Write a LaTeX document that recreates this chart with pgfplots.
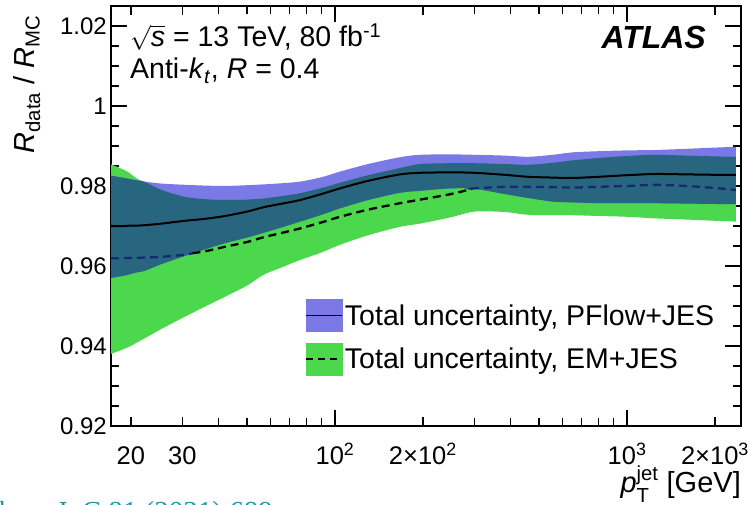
\documentclass[border=0pt]{standalone}
\usepackage{amsmath}
\usepackage{fontspec}
\setmainfont{Liberation Sans}
\newfontfamily\serifcite{Liberation Serif}
\usepackage{pgfplots}
\pgfplotsset{compat=1.18}
\usepackage{pgfplotstable}
\usepgfplotslibrary{fillbetween}

\definecolor{pfblue}{RGB}{123,121,229}
\definecolor{emgreen}{RGB}{76,216,76}
\definecolor{ovteal}{RGB}{40,102,128}
\definecolor{navy}{RGB}{22,42,112}
\definecolor{citeteal}{RGB}{30,150,165}

\newcommand\tk{\fontsize{24}{26}\selectfont}
\newcommand\tkx{\fontsize{25.5}{27}\selectfont}
\newcommand\lb{\fontsize{28.5}{31}\selectfont}

\pgfplotstableread{
x      pflo    pfhi    pfc     emlo    emhi    emc     ovhi
17.1   0.9570  0.9826  0.9700  0.9380  0.9854  0.9619  0.9826
19     0.9576  0.9820  0.9700  0.9393  0.9840  0.9620  0.9820
20     0.9580  0.9817  0.9701  0.9400  0.9830  0.9620  0.9817
21     0.9584  0.9814  0.9701  0.9409  0.9818  0.9620  0.9814
22.3   0.9588  0.9811  0.9702  0.9419  0.9810  0.9621  0.9810
25.5   0.9605  0.9806  0.9706  0.9443  0.9790  0.9623  0.9790
30.6   0.9625  0.9803  0.9713  0.9473  0.9773  0.9628  0.9773
36     0.9642  0.9801  0.9718  0.9499  0.9767  0.9637  0.9767
42     0.9657  0.9800  0.9725  0.9523  0.9765  0.9648  0.9765
50     0.9671  0.9802  0.9736  0.9551  0.9766  0.9660  0.9766
57     0.9683  0.9804  0.9747  0.9578  0.9769  0.9672  0.9769
66     0.9697  0.9807  0.9756  0.9597  0.9775  0.9683  0.9775
76     0.9711  0.9811  0.9765  0.9615  0.9782  0.9694  0.9782
90     0.9728  0.9822  0.9780  0.9634  0.9795  0.9709  0.9795
104    0.9744  0.9836  0.9794  0.9653  0.9808  0.9723  0.9808
130    0.9765  0.9855  0.9813  0.9677  0.9827  0.9741  0.9827
167    0.9783  0.9872  0.9829  0.9698  0.9845  0.9757  0.9845
196    0.9788  0.9878  0.9833  0.9706  0.9855  0.9766  0.9855
250    0.9794  0.9879  0.9834  0.9722  0.9857  0.9780  0.9857
300    0.9793  0.9878  0.9833  0.9736  0.9857  0.9794  0.9857
380    0.9780  0.9876  0.9828  0.9735  0.9855  0.9798  0.9855
458    0.9770  0.9873  0.9823  0.9728  0.9853  0.9798  0.9853
557    0.9761  0.9878  0.9821  0.9727  0.9858  0.9797  0.9858
650    0.9759  0.9884  0.9820  0.9727  0.9864  0.9796  0.9864
800    0.9757  0.9887  0.9823  0.9725  0.9870  0.9798  0.9870
1000   0.9757  0.9889  0.9827  0.9723  0.9875  0.9800  0.9875
1248   0.9757  0.9890  0.9830  0.9719  0.9878  0.9803  0.9878
1600   0.9756  0.9893  0.9829  0.9716  0.9876  0.9800  0.9876
2000   0.9755  0.9896  0.9828  0.9713  0.9874  0.9795  0.9874
2360   0.9755  0.9898  0.9828  0.9711  0.9873  0.9790  0.9873
}\bands

\begin{document}
\begin{tikzpicture}
\begin{axis}[
  at={(111pt,79pt)}, anchor=south west,
  scale only axis, width=629.7pt, height=420pt,
  xmode=log, xmin=17.1, xmax=2450,
  ymin=0.92, ymax=1.025,
  /pgf/number format/assume math mode=true,
  axis line style={line width=1.6pt},
  every tick/.append style={black, line width=1.3pt},
  major tick length=16pt, minor tick length=8pt,
  tick align=inside,
  xtick pos=both, ytick pos=both,
  xticklabel pos=bottom, yticklabel pos=left,
  xtick={100,1000}, xticklabels={10\textsuperscript{2},10\textsuperscript{3}},
  extra x ticks={20,30,200,2000},
  extra x tick labels={20,30,2×10\textsuperscript{2},2×10\textsuperscript{3}},
  extra x tick style={major tick length=9pt},
  minor xtick={40,50,60,70,80,90,300,400,500,600,700,800,900},
  ytick={0.92,0.94,0.96,0.98,1,1.02},
  yticklabels={0.92,0.94,0.96,0.98,1,1.02},
  minor y tick num=3,
  yticklabel style={font=\tk, inner sep=0pt, xshift=-4pt},
  xticklabel style={font=\tkx, anchor=base, yshift=-39pt, inner sep=0pt},
  legend style={at={(axis description cs:0.308,0.302)}, anchor=north west,
    draw=none, fill=none, inner sep=0pt, row sep=11pt, font=\lb,
    /tikz/every even column/.append style={column sep=9pt}},
  legend cell align=left,
]
\addplot[draw=none, smooth, name path=pflo, forget plot] table[x=x,y=pflo]{\bands};
\addplot[draw=none, smooth, name path=pfhi, forget plot] table[x=x,y=pfhi]{\bands};
\addplot[draw=none, smooth, name path=emlo, forget plot] table[x=x,y=emlo]{\bands};
\addplot[draw=none, smooth, name path=emhi, forget plot] table[x=x,y=emhi]{\bands};
\addplot[draw=none, smooth, name path=ovhi, forget plot] table[x=x,y=ovhi]{\bands};
\addplot[fill=emgreen, draw=none, forget plot] fill between[of=emhi and emlo];
\addplot[fill=pfblue, draw=none, forget plot] fill between[of=pfhi and pflo];
\addplot[fill=ovteal, draw=none, forget plot] fill between[of=ovhi and pflo];
% EM central value (dashed), shown dark blue inside the PFlow band
\addplot[navy, line width=2.3pt, dash pattern=on 8pt off 5pt, smooth, forget plot] coordinates {
 (17.1,0.9619) (19,0.9620) (22.3,0.9621) (25.5,0.9623) (30.6,0.9628) (32.5,0.9632)};
\addplot[black, line width=2.3pt, dash pattern=on 8pt off 5pt, smooth, forget plot] coordinates {
 (32.5,0.9632) (36,0.9637) (42,0.9648) (50,0.9660) (57,0.9672) (66,0.9683) (76,0.9694)
 (90,0.9709) (104,0.9723) (130,0.9741) (167,0.9757) (196,0.9766) (250,0.9780) (295,0.9793)};
\addplot[navy, line width=2.3pt, dash pattern=on 8pt off 5pt, smooth, forget plot] coordinates {
 (295,0.9793) (300,0.9794) (380,0.9798) (458,0.9798) (557,0.9797) (650,0.9796) (800,0.9798)
 (1000,0.9800) (1248,0.9803) (1600,0.9800) (2000,0.9795) (2360,0.9790)};
% PFlow central value
\addplot[black, line width=2pt, smooth, forget plot] table[x=x,y=pfc]{\bands};

\addlegendimage{legend image code/.code={
  \fill[pfblue] (0pt,-16pt) rectangle (36pt,16pt);
  \draw[black, line width=1.6pt] (0pt,0pt) -- (36pt,0pt);}}
\addlegendentry{Total uncertainty, PFlow+JES}
\addlegendimage{legend image code/.code={
  \fill[emgreen] (0pt,-16pt) rectangle (36pt,16pt);
  \draw[black, line width=1.8pt, dash pattern=on 7pt off 5pt] (0pt,0pt) -- (36pt,0pt);}}
\addlegendentry{Total uncertainty, EM+JES}
\end{axis}

\node[anchor=base west, font=\lb, inner sep=0pt] at (130pt,458pt)
  {$\sqrt{\mbox{\textit{s}}}$ = 13 TeV, 80 fb\textsuperscript{-1}};
\node[anchor=base west, font=\lb, inner sep=0pt] at (130pt,426pt)
  {Anti-\textit{k}\textsubscript{\textit{t}}, \textit{R} = 0.4};
\node[anchor=base east, font=\fontsize{32}{34}\selectfont\bfseries\itshape, inner sep=0pt] at (706pt,456pt) {ATLAS};
\node[anchor=base east, font=\fontsize{29}{31}\selectfont, inner sep=0pt] at (741pt,12pt)
  {$\text{\textit{p}}_{\text{T}}^{\text{jet}}$ [GeV]};
\node[rotate=90, anchor=base east, font=\fontsize{29}{31}\selectfont, inner sep=0pt] at (34pt,490pt)
  {\textit{R}\textsubscript{data} / \textit{R}\textsubscript{MC}};
\node[anchor=base east, font=\serifcite\fontsize{29}{30}\selectfont, text=citeteal, inner sep=0pt] at (273pt,-17pt)
  {Eur. Phys. J. C 81 (2021) 689};
\pgfresetboundingbox
\path[use as bounding box] (0pt,0pt) rectangle (749pt,505pt);
\end{tikzpicture}
\end{document}
